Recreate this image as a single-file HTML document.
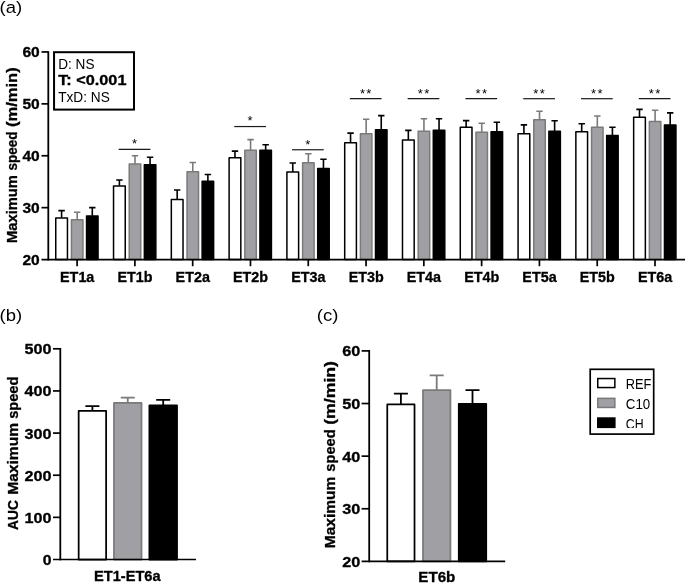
<!DOCTYPE html>
<html><head><meta charset="utf-8"><title>Figure</title>
<style>html,body{margin:0;padding:0;background:#fff;}svg{display:block;will-change:transform;}text{font-family:"Liberation Sans", sans-serif;fill:#000;}.b{font-weight:bold;stroke:#000;stroke-width:0.3px;}</style>
</head><body>
<svg width="685" height="583" viewBox="0 0 685 583">
<rect x="0" y="0" width="685" height="583" fill="#fff"/>
<text x="-0.40" y="12.60" font-size="16.80" textLength="22.60" lengthAdjust="spacingAndGlyphs">(a)</text>
<g transform="translate(17.30 242.90) rotate(-90)">
<text x="0.00" y="0.00" font-size="14.00" class="b" textLength="67.70" lengthAdjust="spacingAndGlyphs">Maximum</text>
</g>
<g transform="translate(17.30 170.60) rotate(-90)">
<text x="0.00" y="0.00" font-size="14.00" class="b" textLength="39.00" lengthAdjust="spacingAndGlyphs">speed</text>
</g>
<g transform="translate(17.30 127.10) rotate(-90)">
<text x="0.00" y="0.00" font-size="14.00" class="b" textLength="59.80" lengthAdjust="spacingAndGlyphs">(m/min)</text>
</g>
<path d="M58.40 210.60 H64.80 M61.60 210.60 V217.80" stroke="#000" stroke-width="1.60" fill="none"/>
<rect x="55.75" y="218.05" width="11.70" height="41.55" fill="#fff" stroke="#000" stroke-width="1.50" stroke-linejoin="round"/>
<path d="M74.00 212.20 H80.40 M77.20 212.20 V219.50" stroke="#7a7a7a" stroke-width="1.60" fill="none"/>
<rect x="71.45" y="219.75" width="11.50" height="39.85" fill="#a0a0a4" stroke="#7a7a7a" stroke-width="1.50" stroke-linejoin="round"/>
<path d="M89.10 207.60 H95.50 M92.30 207.60 V215.70" stroke="#000" stroke-width="1.60" fill="none"/>
<rect x="86.55" y="215.95" width="11.50" height="43.65" fill="#000" stroke="#000" stroke-width="1.50" stroke-linejoin="round"/>
<path d="M77.10 259.60 V266.20" stroke="#000" stroke-width="1.7"/>
<text x="77.20" y="281.60" font-size="14.00" class="b" text-anchor="middle" textLength="34.30" lengthAdjust="spacingAndGlyphs">ET1a</text>
<path d="M116.19 180.00 H122.59 M119.39 180.00 V185.70" stroke="#000" stroke-width="1.60" fill="none"/>
<rect x="113.54" y="185.95" width="11.70" height="73.65" fill="#fff" stroke="#000" stroke-width="1.50" stroke-linejoin="round"/>
<path d="M131.79 155.80 H138.19 M134.99 155.80 V163.70" stroke="#7a7a7a" stroke-width="1.60" fill="none"/>
<rect x="129.24" y="163.95" width="11.50" height="95.65" fill="#a0a0a4" stroke="#7a7a7a" stroke-width="1.50" stroke-linejoin="round"/>
<path d="M146.89 157.20 H153.29 M150.09 157.20 V164.50" stroke="#000" stroke-width="1.60" fill="none"/>
<rect x="144.34" y="164.75" width="11.50" height="94.85" fill="#000" stroke="#000" stroke-width="1.50" stroke-linejoin="round"/>
<path d="M134.89 259.60 V266.20" stroke="#000" stroke-width="1.7"/>
<text x="134.99" y="281.60" font-size="14.00" class="b" text-anchor="middle" textLength="35.00" lengthAdjust="spacingAndGlyphs">ET1b</text>
<path d="M118.69 149.45 H150.39" stroke="#1a1a1a" stroke-width="1.2"/>
<text x="135.19" y="148.35" font-size="13.00" text-anchor="middle" letter-spacing="1.4">*</text>
<path d="M173.98 190.00 H180.38 M177.18 190.00 V199.30" stroke="#000" stroke-width="1.60" fill="none"/>
<rect x="171.33" y="199.55" width="11.70" height="60.05" fill="#fff" stroke="#000" stroke-width="1.50" stroke-linejoin="round"/>
<path d="M189.58 162.50 H195.98 M192.78 162.50 V171.50" stroke="#7a7a7a" stroke-width="1.60" fill="none"/>
<rect x="187.03" y="171.75" width="11.50" height="87.85" fill="#a0a0a4" stroke="#7a7a7a" stroke-width="1.50" stroke-linejoin="round"/>
<path d="M204.68 174.50 H211.08 M207.88 174.50 V181.00" stroke="#000" stroke-width="1.60" fill="none"/>
<rect x="202.13" y="181.25" width="11.50" height="78.35" fill="#000" stroke="#000" stroke-width="1.50" stroke-linejoin="round"/>
<path d="M192.68 259.60 V266.20" stroke="#000" stroke-width="1.7"/>
<text x="192.78" y="281.60" font-size="14.00" class="b" text-anchor="middle" textLength="34.30" lengthAdjust="spacingAndGlyphs">ET2a</text>
<path d="M231.77 151.10 H238.17 M234.97 151.10 V157.90" stroke="#000" stroke-width="1.60" fill="none"/>
<rect x="229.12" y="157.75" width="11.70" height="101.85" fill="#fff" stroke="#000" stroke-width="1.50" stroke-linejoin="round"/>
<path d="M247.37 139.60 H253.77 M250.57 139.60 V150.30" stroke="#7a7a7a" stroke-width="1.60" fill="none"/>
<rect x="244.82" y="150.15" width="11.50" height="109.45" fill="#a0a0a4" stroke="#7a7a7a" stroke-width="1.50" stroke-linejoin="round"/>
<path d="M262.47 144.80 H268.87 M265.67 144.80 V150.30" stroke="#000" stroke-width="1.60" fill="none"/>
<rect x="259.92" y="150.15" width="11.50" height="109.45" fill="#000" stroke="#000" stroke-width="1.50" stroke-linejoin="round"/>
<path d="M250.47 259.60 V266.20" stroke="#000" stroke-width="1.7"/>
<text x="250.57" y="281.60" font-size="14.00" class="b" text-anchor="middle" textLength="35.00" lengthAdjust="spacingAndGlyphs">ET2b</text>
<path d="M234.27 126.55 H265.97" stroke="#1a1a1a" stroke-width="1.2"/>
<text x="250.77" y="125.45" font-size="13.00" text-anchor="middle" letter-spacing="1.4">*</text>
<path d="M289.56 163.00 H295.96 M292.76 163.00 V172.10" stroke="#000" stroke-width="1.60" fill="none"/>
<rect x="286.91" y="171.95" width="11.70" height="87.65" fill="#fff" stroke="#000" stroke-width="1.50" stroke-linejoin="round"/>
<path d="M305.16 153.70 H311.56 M308.36 153.70 V162.80" stroke="#7a7a7a" stroke-width="1.60" fill="none"/>
<rect x="302.61" y="162.65" width="11.50" height="96.95" fill="#a0a0a4" stroke="#7a7a7a" stroke-width="1.50" stroke-linejoin="round"/>
<path d="M320.26 159.20 H326.66 M323.46 159.20 V168.60" stroke="#000" stroke-width="1.60" fill="none"/>
<rect x="317.71" y="168.45" width="11.50" height="91.15" fill="#000" stroke="#000" stroke-width="1.50" stroke-linejoin="round"/>
<path d="M308.26 259.60 V266.20" stroke="#000" stroke-width="1.7"/>
<text x="308.36" y="281.60" font-size="14.00" class="b" text-anchor="middle" textLength="34.30" lengthAdjust="spacingAndGlyphs">ET3a</text>
<path d="M292.06 149.75 H323.76" stroke="#1a1a1a" stroke-width="1.2"/>
<text x="308.56" y="148.65" font-size="13.00" text-anchor="middle" letter-spacing="1.4">*</text>
<path d="M347.35 133.10 H353.75 M350.55 133.10 V142.90" stroke="#000" stroke-width="1.60" fill="none"/>
<rect x="344.70" y="142.75" width="11.70" height="116.85" fill="#fff" stroke="#000" stroke-width="1.50" stroke-linejoin="round"/>
<path d="M362.95 119.20 H369.35 M366.15 119.20 V133.80" stroke="#7a7a7a" stroke-width="1.60" fill="none"/>
<rect x="360.40" y="133.65" width="11.50" height="125.95" fill="#a0a0a4" stroke="#7a7a7a" stroke-width="1.50" stroke-linejoin="round"/>
<path d="M378.05 115.60 H384.45 M381.25 115.60 V129.80" stroke="#000" stroke-width="1.60" fill="none"/>
<rect x="375.50" y="129.65" width="11.50" height="129.95" fill="#000" stroke="#000" stroke-width="1.50" stroke-linejoin="round"/>
<path d="M366.05 259.60 V266.20" stroke="#000" stroke-width="1.7"/>
<text x="366.15" y="281.60" font-size="14.00" class="b" text-anchor="middle" textLength="35.00" lengthAdjust="spacingAndGlyphs">ET3b</text>
<path d="M349.85 98.70 H381.55" stroke="#1a1a1a" stroke-width="1.2"/>
<text x="366.35" y="97.60" font-size="13.00" text-anchor="middle" letter-spacing="1.4">**</text>
<path d="M405.14 130.40 H411.54 M408.34 130.40 V140.20" stroke="#000" stroke-width="1.60" fill="none"/>
<rect x="402.49" y="140.05" width="11.70" height="119.55" fill="#fff" stroke="#000" stroke-width="1.50" stroke-linejoin="round"/>
<path d="M420.74 118.70 H427.14 M423.94 118.70 V131.30" stroke="#7a7a7a" stroke-width="1.60" fill="none"/>
<rect x="418.19" y="131.15" width="11.50" height="128.45" fill="#a0a0a4" stroke="#7a7a7a" stroke-width="1.50" stroke-linejoin="round"/>
<path d="M435.84 118.70 H442.24 M439.04 118.70 V130.50" stroke="#000" stroke-width="1.60" fill="none"/>
<rect x="433.29" y="130.35" width="11.50" height="129.25" fill="#000" stroke="#000" stroke-width="1.50" stroke-linejoin="round"/>
<path d="M423.84 259.60 V266.20" stroke="#000" stroke-width="1.7"/>
<text x="423.94" y="281.60" font-size="14.00" class="b" text-anchor="middle" textLength="34.30" lengthAdjust="spacingAndGlyphs">ET4a</text>
<path d="M407.64 98.70 H439.34" stroke="#1a1a1a" stroke-width="1.2"/>
<text x="424.14" y="97.60" font-size="13.00" text-anchor="middle" letter-spacing="1.4">**</text>
<path d="M462.93 120.60 H469.33 M466.13 120.60 V127.40" stroke="#000" stroke-width="1.60" fill="none"/>
<rect x="460.28" y="127.25" width="11.70" height="132.35" fill="#fff" stroke="#000" stroke-width="1.50" stroke-linejoin="round"/>
<path d="M478.53 123.20 H484.93 M481.73 123.20 V132.40" stroke="#7a7a7a" stroke-width="1.60" fill="none"/>
<rect x="475.98" y="132.25" width="11.50" height="127.35" fill="#a0a0a4" stroke="#7a7a7a" stroke-width="1.50" stroke-linejoin="round"/>
<path d="M493.63 122.20 H500.03 M496.83 122.20 V132.00" stroke="#000" stroke-width="1.60" fill="none"/>
<rect x="491.08" y="131.85" width="11.50" height="127.75" fill="#000" stroke="#000" stroke-width="1.50" stroke-linejoin="round"/>
<path d="M481.63 259.60 V266.20" stroke="#000" stroke-width="1.7"/>
<text x="481.73" y="281.60" font-size="14.00" class="b" text-anchor="middle" textLength="35.00" lengthAdjust="spacingAndGlyphs">ET4b</text>
<path d="M465.43 98.70 H497.13" stroke="#1a1a1a" stroke-width="1.2"/>
<text x="481.93" y="97.60" font-size="13.00" text-anchor="middle" letter-spacing="1.4">**</text>
<path d="M520.72 124.90 H527.12 M523.92 124.90 V134.00" stroke="#000" stroke-width="1.60" fill="none"/>
<rect x="518.07" y="133.85" width="11.70" height="125.75" fill="#fff" stroke="#000" stroke-width="1.50" stroke-linejoin="round"/>
<path d="M536.32 111.30 H542.72 M539.52 111.30 V120.00" stroke="#7a7a7a" stroke-width="1.60" fill="none"/>
<rect x="533.77" y="119.85" width="11.50" height="139.75" fill="#a0a0a4" stroke="#7a7a7a" stroke-width="1.50" stroke-linejoin="round"/>
<path d="M551.42 120.80 H557.82 M554.62 120.80 V131.30" stroke="#000" stroke-width="1.60" fill="none"/>
<rect x="548.87" y="131.15" width="11.50" height="128.45" fill="#000" stroke="#000" stroke-width="1.50" stroke-linejoin="round"/>
<path d="M539.42 259.60 V266.20" stroke="#000" stroke-width="1.7"/>
<text x="539.52" y="281.60" font-size="14.00" class="b" text-anchor="middle" textLength="34.30" lengthAdjust="spacingAndGlyphs">ET5a</text>
<path d="M523.22 98.70 H554.92" stroke="#1a1a1a" stroke-width="1.2"/>
<text x="539.72" y="97.60" font-size="13.00" text-anchor="middle" letter-spacing="1.4">**</text>
<path d="M578.51 123.80 H584.91 M581.71 123.80 V132.00" stroke="#000" stroke-width="1.60" fill="none"/>
<rect x="575.86" y="131.85" width="11.70" height="127.75" fill="#fff" stroke="#000" stroke-width="1.50" stroke-linejoin="round"/>
<path d="M594.11 116.00 H600.51 M597.31 116.00 V127.40" stroke="#7a7a7a" stroke-width="1.60" fill="none"/>
<rect x="591.56" y="127.25" width="11.50" height="132.35" fill="#a0a0a4" stroke="#7a7a7a" stroke-width="1.50" stroke-linejoin="round"/>
<path d="M609.21 127.30 H615.61 M612.41 127.30 V135.70" stroke="#000" stroke-width="1.60" fill="none"/>
<rect x="606.66" y="135.55" width="11.50" height="124.05" fill="#000" stroke="#000" stroke-width="1.50" stroke-linejoin="round"/>
<path d="M597.21 259.60 V266.20" stroke="#000" stroke-width="1.7"/>
<text x="597.31" y="281.60" font-size="14.00" class="b" text-anchor="middle" textLength="35.00" lengthAdjust="spacingAndGlyphs">ET5b</text>
<path d="M581.01 98.70 H612.71" stroke="#1a1a1a" stroke-width="1.2"/>
<text x="597.51" y="97.60" font-size="13.00" text-anchor="middle" letter-spacing="1.4">**</text>
<path d="M636.30 109.40 H642.70 M639.50 109.40 V117.50" stroke="#000" stroke-width="1.60" fill="none"/>
<rect x="633.65" y="117.35" width="11.70" height="142.25" fill="#fff" stroke="#000" stroke-width="1.50" stroke-linejoin="round"/>
<path d="M651.90 110.20 H658.30 M655.10 110.20 V121.60" stroke="#7a7a7a" stroke-width="1.60" fill="none"/>
<rect x="649.35" y="121.45" width="11.50" height="138.15" fill="#a0a0a4" stroke="#7a7a7a" stroke-width="1.50" stroke-linejoin="round"/>
<path d="M667.00 112.90 H673.40 M670.20 112.90 V125.10" stroke="#000" stroke-width="1.60" fill="none"/>
<rect x="664.45" y="124.95" width="11.50" height="134.65" fill="#000" stroke="#000" stroke-width="1.50" stroke-linejoin="round"/>
<path d="M655.00 259.60 V266.20" stroke="#000" stroke-width="1.7"/>
<text x="655.10" y="281.60" font-size="14.00" class="b" text-anchor="middle" textLength="34.30" lengthAdjust="spacingAndGlyphs">ET6a</text>
<path d="M638.80 98.70 H670.50" stroke="#1a1a1a" stroke-width="1.2"/>
<text x="655.30" y="97.60" font-size="13.00" text-anchor="middle" letter-spacing="1.4">**</text>
<path d="M48.30 51.20 V260.45" stroke="#000" stroke-width="1.8" fill="none"/>
<path d="M41.50 259.60 H685" stroke="#000" stroke-width="1.7" fill="none"/>
<path d="M41.5 51.95 H48.30" stroke="#000" stroke-width="1.7"/>
<path d="M41.5 103.85 H48.30" stroke="#000" stroke-width="1.7"/>
<path d="M41.5 155.75 H48.30" stroke="#000" stroke-width="1.7"/>
<path d="M41.5 207.65 H48.30" stroke="#000" stroke-width="1.7"/>
<text x="39.70" y="57.05" font-size="14.00" class="b" text-anchor="end" textLength="17.30" lengthAdjust="spacingAndGlyphs">60</text>
<text x="39.70" y="108.95" font-size="14.00" class="b" text-anchor="end" textLength="17.30" lengthAdjust="spacingAndGlyphs">50</text>
<text x="39.70" y="160.85" font-size="14.00" class="b" text-anchor="end" textLength="17.30" lengthAdjust="spacingAndGlyphs">40</text>
<text x="39.70" y="212.75" font-size="14.00" class="b" text-anchor="end" textLength="17.30" lengthAdjust="spacingAndGlyphs">30</text>
<text x="39.70" y="264.65" font-size="14.00" class="b" text-anchor="end" textLength="17.30" lengthAdjust="spacingAndGlyphs">20</text>
<rect x="54.05" y="52.2" width="79.95" height="57.4" fill="#fff" stroke="#000" stroke-width="2"/>
<text x="58.20" y="69.30" font-size="14.20" textLength="36.30" lengthAdjust="spacingAndGlyphs">D: NS</text>
<text x="58.20" y="85.30" font-size="14.20" class="b" textLength="68.30" lengthAdjust="spacingAndGlyphs">T: &lt;0.001</text>
<text x="58.20" y="101.60" font-size="14.20" textLength="51.60" lengthAdjust="spacingAndGlyphs">TxD: NS</text>
<text x="-0.40" y="321.40" font-size="16.80" textLength="22.60" lengthAdjust="spacingAndGlyphs">(b)</text>
<g transform="translate(18.00 529.90) rotate(-90)">
<text x="0.00" y="0.00" font-size="14.70" class="b" textLength="29.70" lengthAdjust="spacingAndGlyphs">AUC</text>
</g>
<g transform="translate(18.00 494.80) rotate(-90)">
<text x="0.00" y="0.00" font-size="14.70" class="b" textLength="71.80" lengthAdjust="spacingAndGlyphs">Maximum</text>
</g>
<g transform="translate(18.00 418.80) rotate(-90)">
<text x="0.00" y="0.00" font-size="14.70" class="b" textLength="42.20" lengthAdjust="spacingAndGlyphs">speed</text>
</g>
<path d="M85.40 406.20 H99.40 M92.40 406.20 V410.50" stroke="#000" stroke-width="1.80" fill="none"/>
<rect x="78.67" y="410.88" width="27.45" height="148.62" fill="#fff" stroke="#000" stroke-width="1.75" stroke-linejoin="round"/>
<path d="M120.75 397.70 H134.75 M127.75 397.70 V402.60" stroke="#7a7a7a" stroke-width="1.80" fill="none"/>
<rect x="113.97" y="402.98" width="27.55" height="156.52" fill="#a0a0a4" stroke="#7a7a7a" stroke-width="1.75" stroke-linejoin="round"/>
<path d="M156.20 399.80 H170.20 M163.20 399.80 V405.00" stroke="#000" stroke-width="1.80" fill="none"/>
<rect x="149.38" y="405.38" width="27.65" height="154.12" fill="#000" stroke="#000" stroke-width="1.75" stroke-linejoin="round"/>
<path d="M60.30 348.00 V560.35" stroke="#000" stroke-width="1.8" fill="none"/>
<path d="M53.00 559.50 H196" stroke="#000" stroke-width="1.7" fill="none"/>
<path d="M53 348.80 H60.30" stroke="#000" stroke-width="1.7"/>
<text x="51.60" y="354.30" font-size="14.40" class="b" text-anchor="end" textLength="27.00" lengthAdjust="spacingAndGlyphs">500</text>
<path d="M53 390.94 H60.30" stroke="#000" stroke-width="1.7"/>
<text x="51.60" y="396.44" font-size="14.40" class="b" text-anchor="end" textLength="27.00" lengthAdjust="spacingAndGlyphs">400</text>
<path d="M53 433.08 H60.30" stroke="#000" stroke-width="1.7"/>
<text x="51.60" y="438.58" font-size="14.40" class="b" text-anchor="end" textLength="27.00" lengthAdjust="spacingAndGlyphs">300</text>
<path d="M53 475.22 H60.30" stroke="#000" stroke-width="1.7"/>
<text x="51.60" y="480.72" font-size="14.40" class="b" text-anchor="end" textLength="27.00" lengthAdjust="spacingAndGlyphs">200</text>
<path d="M53 517.36 H60.30" stroke="#000" stroke-width="1.7"/>
<text x="51.60" y="522.86" font-size="14.40" class="b" text-anchor="end" textLength="27.00" lengthAdjust="spacingAndGlyphs">100</text>
<text x="51.60" y="565.00" font-size="14.40" class="b" text-anchor="end" textLength="8.80" lengthAdjust="spacingAndGlyphs">0</text>
<text x="127.30" y="580.60" font-size="14.00" class="b" text-anchor="middle" textLength="66.50" lengthAdjust="spacingAndGlyphs">ET1-ET6a</text>
<text x="316.80" y="321.40" font-size="16.80" textLength="21.60" lengthAdjust="spacingAndGlyphs">(c)</text>
<g transform="translate(334.90 548.20) rotate(-90)">
<text x="0.00" y="0.00" font-size="14.70" class="b" textLength="71.60" lengthAdjust="spacingAndGlyphs">Maximum</text>
</g>
<g transform="translate(334.90 471.70) rotate(-90)">
<text x="0.00" y="0.00" font-size="14.70" class="b" textLength="42.30" lengthAdjust="spacingAndGlyphs">speed</text>
</g>
<g transform="translate(334.90 424.80) rotate(-90)">
<text x="0.00" y="0.00" font-size="14.70" class="b" textLength="63.80" lengthAdjust="spacingAndGlyphs">(m/min)</text>
</g>
<path d="M393.90 393.70 H407.90 M400.90 393.70 V404.00" stroke="#000" stroke-width="1.80" fill="none"/>
<rect x="387.27" y="404.38" width="27.25" height="157.02" fill="#fff" stroke="#000" stroke-width="1.75" stroke-linejoin="round"/>
<path d="M429.70 375.30 H443.70 M436.70 375.30 V389.70" stroke="#7a7a7a" stroke-width="1.80" fill="none"/>
<rect x="422.98" y="390.07" width="27.45" height="171.32" fill="#a0a0a4" stroke="#7a7a7a" stroke-width="1.75" stroke-linejoin="round"/>
<path d="M465.50 390.20 H479.50 M472.50 390.20 V403.40" stroke="#000" stroke-width="1.80" fill="none"/>
<rect x="458.77" y="403.77" width="27.45" height="157.62" fill="#000" stroke="#000" stroke-width="1.75" stroke-linejoin="round"/>
<path d="M369.20 350.00 V562.25" stroke="#000" stroke-width="1.8" fill="none"/>
<path d="M361.60 561.40 H505.2" stroke="#000" stroke-width="1.7" fill="none"/>
<path d="M361.6 350.90 H369.20" stroke="#000" stroke-width="1.7"/>
<text x="360.40" y="356.40" font-size="15.00" class="b" text-anchor="end" textLength="18.10" lengthAdjust="spacingAndGlyphs">60</text>
<path d="M361.6 403.52 H369.20" stroke="#000" stroke-width="1.7"/>
<text x="360.40" y="409.02" font-size="15.00" class="b" text-anchor="end" textLength="18.10" lengthAdjust="spacingAndGlyphs">50</text>
<path d="M361.6 456.14 H369.20" stroke="#000" stroke-width="1.7"/>
<text x="360.40" y="461.64" font-size="15.00" class="b" text-anchor="end" textLength="18.10" lengthAdjust="spacingAndGlyphs">40</text>
<path d="M361.6 508.76 H369.20" stroke="#000" stroke-width="1.7"/>
<text x="360.40" y="514.26" font-size="15.00" class="b" text-anchor="end" textLength="18.10" lengthAdjust="spacingAndGlyphs">30</text>
<text x="360.40" y="566.88" font-size="15.00" class="b" text-anchor="end" textLength="18.10" lengthAdjust="spacingAndGlyphs">20</text>
<text x="436.80" y="582.00" font-size="14.70" class="b" text-anchor="middle" textLength="37.00" lengthAdjust="spacingAndGlyphs">ET6b</text>
<rect x="590.2" y="369.3" width="63.5" height="64.8" fill="#fff" stroke="#000" stroke-width="1.7"/>
<rect x="597.75" y="378.55" width="17.1" height="9.0" fill="#fff" stroke="#000" stroke-width="1.5"/>
<rect x="597.75" y="398.35" width="17.1" height="9.1" fill="#a0a0a4" stroke="#7a7a7a" stroke-width="1.5"/>
<rect x="597.75" y="418.05" width="17.1" height="9.3" fill="#000" stroke="#000" stroke-width="1.5"/>
<text x="625.80" y="389.00" font-size="14.50" textLength="25.60" lengthAdjust="spacingAndGlyphs">REF</text>
<text x="625.80" y="408.90" font-size="14.50" textLength="24.40" lengthAdjust="spacingAndGlyphs">C10</text>
<clipPath id="cl"><rect x="620" y="410" width="40" height="17.9"/></clipPath>
<text x="625.80" y="428.80" font-size="14.50" textLength="17.80" lengthAdjust="spacingAndGlyphs" clip-path="url(#cl)">CH</text>
</svg>
</body></html>
